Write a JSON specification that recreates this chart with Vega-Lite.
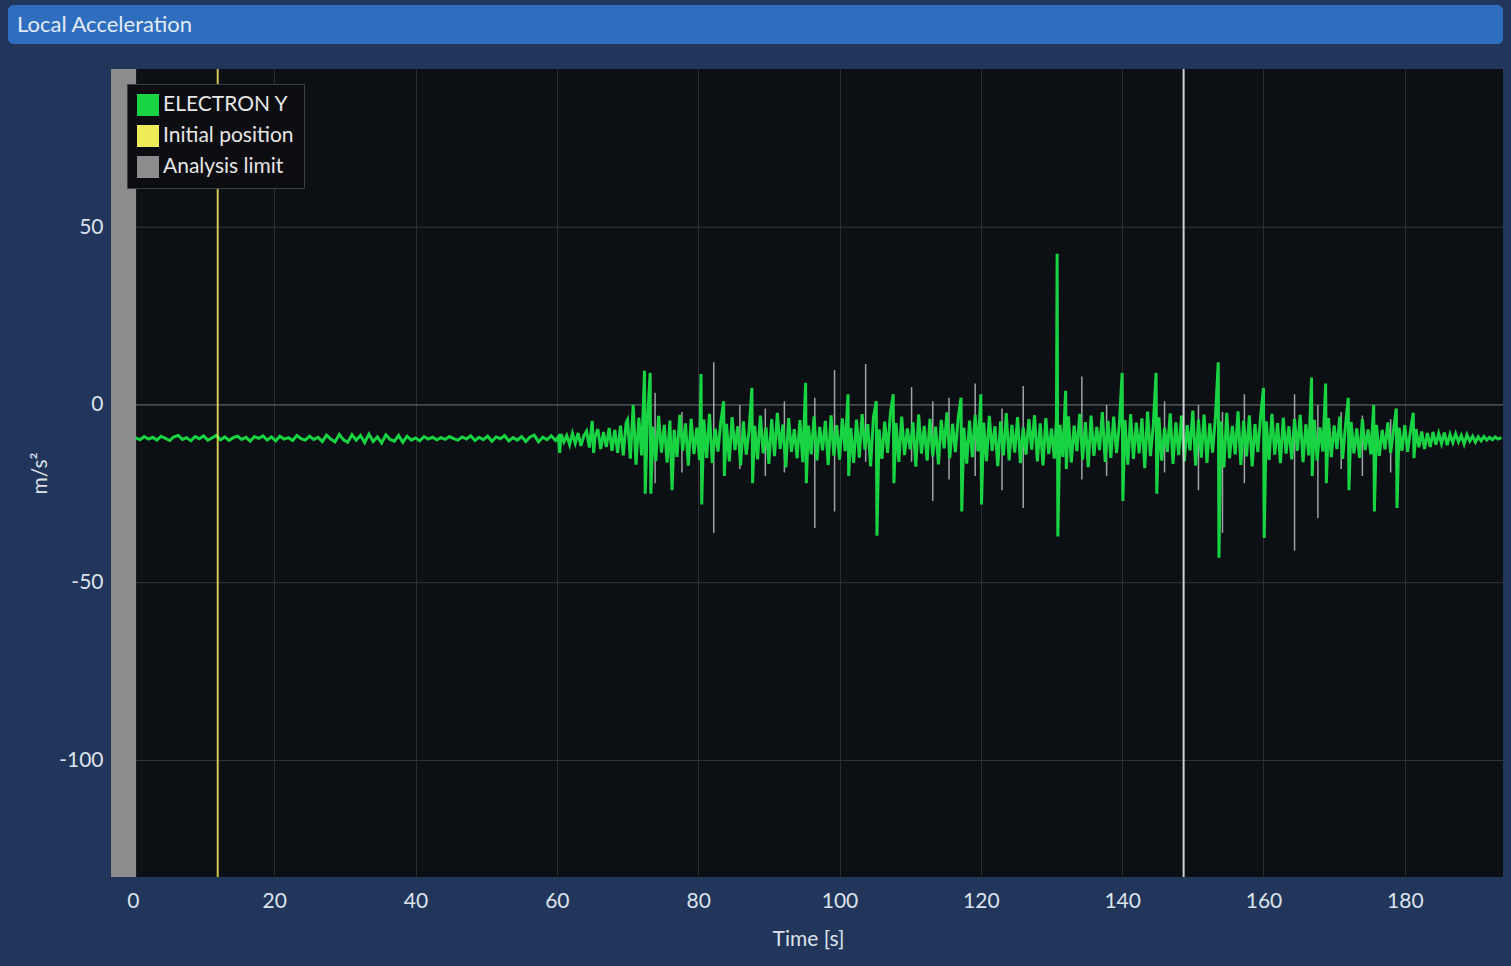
{
  "$schema": "https://vega.github.io/schema/vega-lite/v6.json",
  "background": "#21365a",
  "padding": {"left": 8, "top": 5, "right": 20, "bottom": 40},
  "spacing": 24,
  "resolve": {"scale": {"color": "independent"}, "legend": {"color": "independent"}},
  "config": {
    "font": "Lato",
    "view": {"stroke": null},
    "axis": {
      "labelFont": "Lato",
      "titleFont": "Lato",
      "labelFontSize": 21,
      "titleFontSize": 21,
      "titleFontWeight": "normal",
      "labelColor": "#dde3ec",
      "titleColor": "#dde3ec",
      "ticks": false,
      "labelFlush": false
    },
    "legend": {
      "orient": "none",
      "legendX": 119,
      "legendY": 15,
      "fillColor": "#0b0d10",
      "strokeColor": "#3b4048",
      "padding": 10,
      "rowPadding": 9,
      "symbolType": "square",
      "symbolSize": 484,
      "symbolStrokeWidth": 0,
      "labelFont": "Lato",
      "labelFontSize": 21,
      "labelColor": "#e6e6e6",
      "labelOffset": 4
    }
  },
  "vconcat": [
    {
      "width": 1495,
      "height": 39,
      "view": {"fill": "#2f6ebe", "stroke": null, "cornerRadius": 6},
      "title": {
        "text": "Local Acceleration",
        "orient": "top",
        "anchor": "start",
        "frame": "group",
        "offset": -32,
        "dx": 9,
        "fontSize": 22,
        "fontWeight": "normal",
        "color": "#e3ebf6"
      },
      "data": {"values": [{"label": "Local Acceleration"}]},
      "mark": {"type": "rect", "fill": "#2f6ebe", "cornerRadius": 6},
      "encoding": {}
    },
    {
      "width": 1495,
      "height": 808,
      "view": {"fill": "#0c0f13", "stroke": null},
      "layer": [
        {
          "data": {"values": [{"v": -100}, {"v": -50}, {"v": 50}]},
          "mark": {"type": "rule", "color": "#34373d", "strokeWidth": 1},
          "encoding": {
            "x": {"datum": -3.1, "type": "quantitative", "scale": {"domain": [-17.68, 193.9], "nice": false, "zero": false}},
            "x2": {"datum": 193.9},
            "y": {"field": "v", "type": "quantitative", "title": "m/s²", "scale": {"domain": [-132.8, 94.5], "nice": false, "zero": false}}
          }
        },
        {
          "data": {"values": [{"t0": -17.68, "t1": -3.1}]},
          "mark": {"type": "rect", "clip": true, "color": "#21365a"},
          "encoding": {
            "x": {"field": "t0", "type": "quantitative", "title": "Time [s]", "scale": {"domain": [-17.68, 193.9], "nice": false, "zero": false}},
            "x2": {"field": "t1"}
          }
        },
        {
          "data": {"values": [{"t0": -3.1, "t1": 0.45, "series": "Analysis limit"}]},
          "mark": {"type": "rect", "clip": true},
          "encoding": {
            "x": {"field": "t0", "type": "quantitative", "title": "Time [s]", "scale": {"domain": [-17.68, 193.9], "nice": false, "zero": false}},
            "x2": {"field": "t1"},
            "color": {"field": "series", "type": "nominal", "title": null}
          }
        },
        {
          "data": {"values": [{"v": 0}]},
          "mark": {"type": "rule", "color": "#8f9297", "strokeWidth": 1, "opacity": 0.8},
          "encoding": {
            "x": {"datum": -3.1, "type": "quantitative", "scale": {"domain": [-17.68, 193.9], "nice": false, "zero": false}},
            "x2": {"datum": 193.9},
            "y": {"field": "v", "type": "quantitative", "title": "m/s²", "scale": {"domain": [-132.8, 94.5], "nice": false, "zero": false}}
          }
        },
        {
          "data": {"values": [
            {"t": 73.9, "lo": -22, "hi": 3.4}, {"t": 77.7, "lo": -19, "hi": -2}, {"t": 82.2, "lo": -36, "hi": 12},
            {"t": 85.9, "lo": -18, "hi": 0}, {"t": 89.5, "lo": -20, "hi": -1}, {"t": 92.2, "lo": -19, "hi": 1},
            {"t": 96.5, "lo": -34.6, "hi": 2}, {"t": 99.3, "lo": -30, "hi": 9.8}, {"t": 103.7, "lo": -16, "hi": 11.5},
            {"t": 110.2, "lo": -16, "hi": 5}, {"t": 113.2, "lo": -27, "hi": 1}, {"t": 115.5, "lo": -21, "hi": 2},
            {"t": 119.2, "lo": -20, "hi": 6}, {"t": 123.0, "lo": -24, "hi": -1}, {"t": 126.0, "lo": -29, "hi": 5.3},
            {"t": 134.3, "lo": -21, "hi": 8}, {"t": 137.8, "lo": -20, "hi": 0}, {"t": 146.0, "lo": -19, "hi": 1},
            {"t": 150.8, "lo": -24, "hi": 0}, {"t": 154.2, "lo": -36, "hi": -2}, {"t": 157.3, "lo": -22, "hi": 3},
            {"t": 164.4, "lo": -41, "hi": 3}, {"t": 167.7, "lo": -31.8, "hi": 0}, {"t": 171.0, "lo": -18, "hi": -2},
            {"t": 174.0, "lo": -20, "hi": -3}, {"t": 178.0, "lo": -19, "hi": -4}
          ]},
          "mark": {"type": "rule", "color": "#b9bcc0", "strokeWidth": 1.5, "opacity": 0.85},
          "encoding": {
            "x": {"field": "t", "type": "quantitative", "title": "Time [s]", "scale": {"domain": [-17.68, 193.9], "nice": false, "zero": false}},
            "y": {"field": "hi", "type": "quantitative", "title": "m/s²", "scale": {"domain": [-132.8, 94.5], "nice": false, "zero": false}},
            "y2": {"field": "lo"}
          }
        },
        {
          "data": {"values": [
            {"t":0.4,"a":-9.3},{"t":1.0,"a":-9.8},{"t":1.6,"a":-8.9},{"t":2.2,"a":-9.6},{"t":2.8,"a":-9.1},{"t":3.4,"a":-9.9},{"t":4.0,"a":-8.8},{"t":4.6,"a":-9.4},{"t":5.2,"a":-10.0},{"t":5.8,"a":-9.0},
            {"t":6.4,"a":-8.6},{"t":7.0,"a":-9.7},{"t":7.6,"a":-9.2},{"t":8.2,"a":-10.1},{"t":8.8,"a":-8.9},{"t":9.4,"a":-9.5},{"t":10.0,"a":-8.7},{"t":10.6,"a":-9.9},{"t":11.2,"a":-9.3},{"t":11.8,"a":-8.6},
            {"t":12.4,"a":-9.8},{"t":13.0,"a":-9.0},{"t":13.6,"a":-10.0},{"t":14.2,"a":-9.2},{"t":14.8,"a":-8.8},{"t":15.4,"a":-9.7},{"t":16.0,"a":-9.1},{"t":16.6,"a":-10.2},{"t":17.2,"a":-8.9},{"t":17.8,"a":-9.4},
            {"t":18.4,"a":-8.7},{"t":19.0,"a":-9.9},{"t":19.6,"a":-9.0},{"t":20.2,"a":-10.1},{"t":20.8,"a":-8.8},{"t":21.4,"a":-9.6},{"t":22.0,"a":-9.2},{"t":22.6,"a":-10.0},{"t":23.2,"a":-8.6},{"t":23.8,"a":-9.5},
            {"t":24.4,"a":-9.9},{"t":25.0,"a":-8.8},{"t":25.6,"a":-9.7},{"t":26.2,"a":-9.1},{"t":26.8,"a":-10.3},{"t":27.4,"a":-8.5},{"t":28.0,"a":-9.6},{"t":28.6,"a":-10.4},{"t":29.2,"a":-8.3},{"t":29.8,"a":-9.8},
            {"t":30.4,"a":-10.5},{"t":31.0,"a":-8.4},{"t":31.6,"a":-9.9},{"t":32.2,"a":-8.6},{"t":32.8,"a":-10.6},{"t":33.4,"a":-8.2},{"t":34.0,"a":-10.3},{"t":34.6,"a":-9.0},{"t":35.2,"a":-10.7},{"t":35.8,"a":-8.4},
            {"t":36.4,"a":-9.7},{"t":37.0,"a":-10.2},{"t":37.6,"a":-8.6},{"t":38.2,"a":-10.5},{"t":38.8,"a":-8.8},{"t":39.4,"a":-9.9},{"t":40.0,"a":-9.3},{"t":40.6,"a":-10.1},{"t":41.2,"a":-8.9},{"t":41.8,"a":-9.6},
            {"t":42.4,"a":-9.1},{"t":43.0,"a":-9.8},{"t":43.6,"a":-9.2},{"t":44.2,"a":-9.7},{"t":44.8,"a":-8.9},{"t":45.4,"a":-9.5},{"t":46.0,"a":-9.9},{"t":46.6,"a":-9.0},{"t":47.2,"a":-9.6},{"t":47.8,"a":-8.7},
            {"t":48.4,"a":-10.0},{"t":49.0,"a":-9.1},{"t":49.6,"a":-9.8},{"t":50.2,"a":-8.8},{"t":50.8,"a":-10.2},{"t":51.4,"a":-9.0},{"t":52.0,"a":-9.5},{"t":52.6,"a":-8.6},{"t":53.2,"a":-10.1},{"t":53.8,"a":-9.2},
            {"t":54.4,"a":-9.9},{"t":55.0,"a":-8.9},{"t":55.6,"a":-10.3},{"t":56.2,"a":-9.0},{"t":56.8,"a":-8.5},{"t":57.4,"a":-10.4},{"t":58.0,"a":-9.1},{"t":58.6,"a":-9.8},{"t":59.2,"a":-8.7},{"t":59.8,"a":-10.0},
            {"t":60.2,"a":-9.0},{"t":60.4,"a":-13.5},{"t":60.6,"a":-8.2},{"t":61.0,"a":-10.4},{"t":61.4,"a":-8.6},{"t":61.8,"a":-11.2},{"t":62.2,"a":-8.0},{"t":62.6,"a":-10.8},{"t":63.0,"a":-7.9},{"t":63.4,"a":-11.5},
            {"t":63.8,"a":-8.8},{"t":64.2,"a":-7.4},{"t":64.6,"a":-12.0},{"t":65.0,"a":-4.5},{"t":65.2,"a":-13.5},{"t":65.4,"a":-9.0},{"t":65.8,"a":-6.8},{"t":66.2,"a":-12.4},{"t":66.6,"a":-7.6},{"t":67.0,"a":-11.8},
            {"t":67.4,"a":-6.5},{"t":67.8,"a":-12.9},{"t":68.2,"a":-7.0},{"t":68.6,"a":-13.5},{"t":69.0,"a":-5.8},{"t":69.4,"a":-14.2},{"t":69.8,"a":-5.0},
            {"t":70.0,"a":-4.2},{"t":70.4,"a":-15.1},{"t":70.8,"a":0.0},{"t":71.2,"a":-16.8},{"t":71.6,"a":-3.6},{"t":72.0,"a":-14.2},{"t":72.4,"a":9.6},{"t":72.5,"a":-25},{"t":72.8,"a":-5.0},{"t":73.2,"a":9.0},
            {"t":73.3,"a":-25},{"t":73.6,"a":-6.1},{"t":74.0,"a":-15.8},{"t":74.4,"a":-3.1},{"t":74.8,"a":-13.4},{"t":75.2,"a":-5.6},{"t":75.6,"a":-16.2},{"t":76.0,"a":-4.4},{"t":76.3,"a":-24},{"t":76.6,"a":-7.0},
            {"t":77.0,"a":-14.6},{"t":77.4,"a":-2.8},{"t":77.8,"a":-12.9},{"t":78.2,"a":-5.2},{"t":78.6,"a":-17.1},{"t":79.0,"a":-3.9},{"t":79.4,"a":-13.8},{"t":79.8,"a":-6.4},{"t":80.2,"a":-15.5},{"t":80.4,"a":8.7},
            {"t":80.5,"a":-28},{"t":80.8,"a":-4.1},{"t":81.2,"a":-14.9},{"t":81.6,"a":-2.5},{"t":82.0,"a":-16.4},{"t":82.4,"a":-6.7},{"t":82.8,"a":-13.1},{"t":83.2,"a":-4.8},{"t":83.6,"a":1.0},{"t":83.7,"a":-20},
            {"t":84.0,"a":-5.3},{"t":84.4,"a":-15.9},{"t":84.8,"a":-3.4},{"t":85.2,"a":-12.7},{"t":85.6,"a":-6.0},{"t":86.0,"a":-17.0},{"t":86.4,"a":-4.6},{"t":86.8,"a":-14.0},{"t":87.2,"a":-7.1},{"t":87.6,"a":4.8},
            {"t":87.7,"a":-22},{"t":88.0,"a":-5.9},{"t":88.4,"a":-15.3},{"t":88.8,"a":-3.0},{"t":89.2,"a":-13.6},{"t":89.6,"a":-6.3},{"t":90.0,"a":-16.6},{"t":90.4,"a":-4.0},{"t":90.8,"a":-14.4},{"t":91.2,"a":-2.2},
            {"t":91.6,"a":-12.4},{"t":92.0,"a":-5.5},{"t":92.4,"a":-17.6},{"t":92.8,"a":-3.7},{"t":93.2,"a":-13.2},{"t":93.6,"a":-6.8},{"t":94.0,"a":-15.0},{"t":94.4,"a":-4.3},{"t":94.8,"a":-16.1},{"t":95.2,"a":6.2},
            {"t":95.3,"a":-22},{"t":95.6,"a":-5.8},{"t":96.0,"a":-13.9},{"t":96.4,"a":-3.2},{"t":96.8,"a":-15.6},{"t":97.2,"a":-6.2},{"t":97.6,"a":-12.8},{"t":98.0,"a":-4.5},{"t":98.4,"a":-16.9},{"t":98.8,"a":-2.9},
            {"t":99.2,"a":-14.3},{"t":99.6,"a":-5.7},{"t":100.0,"a":-15.4},{"t":100.4,"a":-3.8},{"t":100.8,"a":-13.0},{"t":101.2,"a":3.0},{"t":101.3,"a":-20},{"t":101.6,"a":-6.5},{"t":102.0,"a":-16.3},{"t":102.4,"a":-4.1},
            {"t":102.8,"a":-14.8},{"t":103.2,"a":-2.6},{"t":103.6,"a":-12.6},{"t":104.0,"a":-5.4},{"t":104.4,"a":-17.3},{"t":104.8,"a":-3.5},{"t":105.2,"a":1.0},{"t":105.3,"a":-36.8},{"t":105.6,"a":-6.9},{"t":106.0,"a":-15.2},
            {"t":106.4,"a":-4.7},{"t":106.8,"a":-13.5},{"t":107.2,"a":-2.4},{"t":107.6,"a":3.0},{"t":107.7,"a":-22},{"t":108.0,"a":-5.1},{"t":108.4,"a":-16.0},{"t":108.8,"a":-3.3},{"t":109.2,"a":-14.1},{"t":109.6,"a":-6.6},
            {"t":110.0,"a":-12.5},{"t":110.4,"a":-4.9},{"t":110.8,"a":-17.4},{"t":111.2,"a":-2.7},{"t":111.6,"a":-13.7},{"t":112.0,"a":-5.9},{"t":112.4,"a":-15.7},{"t":112.8,"a":-3.9},{"t":113.2,"a":-14.5},{"t":113.6,"a":-6.1},
            {"t":114.0,"a":-16.7},{"t":114.4,"a":-4.2},{"t":114.8,"a":-12.2},{"t":115.2,"a":-2.1},{"t":115.6,"a":-15.0},{"t":116.0,"a":-5.3},{"t":116.4,"a":-13.3},{"t":116.8,"a":-3.6},{"t":117.2,"a":2.0},{"t":117.3,"a":-30},
            {"t":117.6,"a":-6.4},{"t":118.0,"a":-16.5},{"t":118.4,"a":-4.4},{"t":118.8,"a":-14.7},{"t":119.2,"a":-2.8},{"t":119.6,"a":-13.1},{"t":120.0,"a":3.0},{"t":120.1,"a":-28},{"t":120.4,"a":-5.0},{"t":120.8,"a":-15.8},
            {"t":121.2,"a":-3.1},{"t":121.6,"a":-12.9},{"t":122.0,"a":-6.0},{"t":122.4,"a":-17.2},{"t":122.8,"a":-4.6},{"t":123.2,"a":-14.2},{"t":123.6,"a":-2.3},{"t":124.0,"a":-15.6},{"t":124.4,"a":-5.6},{"t":124.8,"a":-13.4},
            {"t":125.2,"a":-3.4},{"t":125.6,"a":-16.4},{"t":126.0,"a":-6.3},{"t":126.4,"a":-14.0},{"t":126.8,"a":-4.0},{"t":127.2,"a":-12.6},{"t":127.6,"a":-2.9},{"t":128.0,"a":-15.9},{"t":128.4,"a":-5.2},{"t":128.8,"a":-17.0},
            {"t":129.2,"a":-3.7},{"t":129.6,"a":-13.8},{"t":130.0,"a":-6.7},{"t":130.4,"a":-15.1},{"t":130.7,"a":-4.0},{"t":130.8,"a":42.5},{"t":130.9,"a":-37},{"t":131.2,"a":-5.6},{"t":131.6,"a":-14.6},{"t":132.0,"a":4.0},
            {"t":132.1,"a":-18},{"t":132.4,"a":-3.2},{"t":132.8,"a":-16.2},{"t":133.2,"a":-5.8},{"t":133.6,"a":-13.0},{"t":134.0,"a":-2.5},{"t":134.4,"a":-15.4},{"t":134.8,"a":-4.8},{"t":135.2,"a":-17.5},{"t":135.6,"a":-3.0},
            {"t":136.0,"a":-14.3},{"t":136.4,"a":-6.2},{"t":136.8,"a":-12.7},{"t":137.2,"a":-2.0},{"t":137.6,"a":-16.0},{"t":138.0,"a":-4.5},{"t":138.4,"a":-14.9},{"t":138.8,"a":-3.3},{"t":139.2,"a":-13.5},{"t":139.6,"a":-5.5},
            {"t":140.0,"a":9.0},{"t":140.1,"a":-27},{"t":140.4,"a":-4.3},{"t":140.8,"a":-16.8},{"t":141.2,"a":-2.6},{"t":141.6,"a":-15.2},{"t":142.0,"a":-5.0},{"t":142.4,"a":-13.6},{"t":142.8,"a":-3.8},{"t":143.2,"a":-17.8},
            {"t":143.6,"a":-1.9},{"t":144.0,"a":-14.4},{"t":144.4,"a":-5.9},{"t":144.8,"a":9.0},{"t":144.9,"a":-25},{"t":145.2,"a":-3.5},{"t":145.6,"a":-15.7},{"t":146.0,"a":-6.4},{"t":146.4,"a":-13.2},{"t":146.8,"a":-2.4},
            {"t":147.2,"a":-16.6},{"t":147.6,"a":-4.9},{"t":148.0,"a":-14.1},{"t":148.4,"a":-3.0},{"t":148.8,"a":-15.9},{"t":149.2,"a":-5.7},{"t":149.6,"a":-12.8},{"t":150.0,"a":-1.6},{"t":150.4,"a":-17.1},{"t":150.8,"a":-4.1},
            {"t":151.2,"a":-14.8},{"t":151.6,"a":-2.7},{"t":152.0,"a":-16.3},{"t":152.4,"a":-5.2},{"t":152.8,"a":-13.4},{"t":153.2,"a":-3.4},{"t":153.6,"a":12.0},{"t":153.7,"a":-43},{"t":154.0,"a":-4.7},{"t":154.4,"a":-17.6},
            {"t":154.8,"a":-2.2},{"t":155.2,"a":-15.0},{"t":155.6,"a":-5.9},{"t":156.0,"a":-13.9},{"t":156.4,"a":-1.8},{"t":156.8,"a":-16.9},{"t":157.2,"a":-4.4},{"t":157.6,"a":-14.5},{"t":158.0,"a":-2.9},{"t":158.4,"a":-17.3},
            {"t":158.8,"a":-5.4},{"t":159.2,"a":-13.3},{"t":159.6,"a":-3.1},{"t":160.0,"a":4.8},{"t":160.1,"a":-37.4},{"t":160.4,"a":-4.6},{"t":160.8,"a":-15.5},{"t":161.2,"a":-2.5},{"t":161.6,"a":-14.0},{"t":162.0,"a":-5.1},
            {"t":162.4,"a":-16.4},{"t":162.8,"a":-3.6},{"t":163.2,"a":-13.7},{"t":163.6,"a":-6.0},{"t":164.0,"a":-15.3},{"t":164.4,"a":-3.9},{"t":164.8,"a":-12.9},{"t":165.2,"a":-2.8},{"t":165.6,"a":-16.1},{"t":166.0,"a":-5.5},
            {"t":166.4,"a":-14.2},{"t":166.8,"a":7.7},{"t":166.9,"a":-20},{"t":167.2,"a":-4.2},{"t":167.6,"a":-15.6},{"t":168.0,"a":-6.3},{"t":168.4,"a":-13.1},{"t":168.8,"a":6.0},{"t":168.9,"a":-22},{"t":169.2,"a":-3.7},
            {"t":169.6,"a":-14.7},{"t":170.0,"a":-5.8},{"t":170.4,"a":-12.4},{"t":170.8,"a":-3.3},{"t":171.2,"a":-15.2},{"t":171.6,"a":-6.1},{"t":172.0,"a":2.0},{"t":172.1,"a":-24},{"t":172.4,"a":-4.8},{"t":172.8,"a":-13.6},
            {"t":173.2,"a":-6.6},{"t":173.6,"a":-14.9},{"t":174.0,"a":-4.0},{"t":174.4,"a":-12.7},{"t":174.8,"a":-6.9},{"t":175.2,"a":-13.9},{"t":175.6,"a":0.0},{"t":175.7,"a":-30},{"t":176.0,"a":-5.6},{"t":176.4,"a":-14.3},
            {"t":176.8,"a":-7.0},{"t":177.2,"a":-12.5},{"t":177.6,"a":-4.9},{"t":178.0,"a":-13.5},{"t":178.4,"a":-7.2},{"t":178.8,"a":-1.0},{"t":178.9,"a":-29},{"t":179.2,"a":-6.4},{"t":179.6,"a":-12.9},{"t":180.0,"a":-5.7},
            {"t":180.4,"a":-13.2},{"t":180.8,"a":-7.3},{"t":181.2,"a":-2.2},{"t":181.3,"a":-15},{"t":181.6,"a":-6.8},{"t":182.0,"a":-11.9},{"t":182.4,"a":-7.5},{"t":182.8,"a":-12.4},{"t":183.2,"a":-7.9},
            {"t":183.6,"a":-11.8},{"t":184.0,"a":-7.6},{"t":184.4,"a":-11.2},{"t":184.8,"a":-8.0},{"t":185.2,"a":-10.9},{"t":185.6,"a":-7.8},{"t":186.0,"a":-11.3},{"t":186.4,"a":-8.3},{"t":186.8,"a":-10.6},{"t":187.2,"a":-8.1},
            {"t":187.6,"a":-10.4},{"t":188.0,"a":-8.6},{"t":188.4,"a":-11.0},{"t":188.8,"a":-8.4},{"t":189.2,"a":-10.2},{"t":189.6,"a":-8.8},{"t":190.0,"a":-10.5},{"t":190.4,"a":-9.0},{"t":190.8,"a":-10.1},{"t":191.2,"a":-8.9},
            {"t":191.6,"a":-9.9},{"t":192.0,"a":-9.1},{"t":192.4,"a":-9.8},{"t":192.8,"a":-9.0},{"t":193.2,"a":-9.6},{"t":193.7,"a":-9.2}
          ]},
          "mark": {"type": "line", "strokeWidth": 3, "clip": true},
          "encoding": {
            "x": {
              "field": "t", "type": "quantitative", "title": "Time [s]",
              "scale": {"domain": [-17.68, 193.9], "nice": false, "zero": false},
              "axis": {
                "values": [0, 20, 40, 60, 80, 100, 120, 140, 160, 180],
                "grid": true, "gridColor": "#2a2d33", "gridWidth": 1,
                "domain": false,
                "labelPadding": 13, "titlePadding": 17, "titleX": 800
              }
            },
            "y": {
              "field": "a", "type": "quantitative", "title": "m/s²",
              "scale": {"domain": [-132.8, 94.5], "nice": false, "zero": false},
              "axis": {
                "values": [-100, -50, 0, 50],
                "labelExpr": "datum.value < 0 ? '-' + abs(datum.value) : datum.label",
                "grid": false, "domain": false, "offset": -103, "zindex": 1,
                "labelPadding": 8, "titleX": -61
              }
            },
            "color": {
              "datum": "ELECTRON Y", "type": "nominal",
              "scale": {
                "domain": ["ELECTRON Y", "Initial position", "Analysis limit"],
                "range": ["#19d442", "#eeea58", "#8c8c8c"]
              },
              "legend": {
                "title": null,
                "encode": {
                  "symbols": {
                    "update": {
                      "fill": {"scale": "color", "field": "value"},
                      "stroke": {"value": "transparent"},
                      "opacity": {"value": 1}
                    }
                  }
                }
              }
            }
          }
        },
        {
          "data": {"values": [{"t": 12, "series": "Initial position"}]},
          "mark": {"type": "rule", "strokeWidth": 2, "opacity": 0.85},
          "encoding": {
            "x": {"field": "t", "type": "quantitative", "title": "Time [s]", "scale": {"domain": [-17.68, 193.9], "nice": false, "zero": false}},
            "color": {"field": "series", "type": "nominal", "title": null}
          }
        },
        {
          "data": {"values": [{"t": 148.7}]},
          "mark": {"type": "rule", "strokeWidth": 2, "color": "#cfd1d4"},
          "encoding": {
            "x": {"field": "t", "type": "quantitative", "title": "Time [s]", "scale": {"domain": [-17.68, 193.9], "nice": false, "zero": false}}
          }
        }
      ]
    }
  ]
}
